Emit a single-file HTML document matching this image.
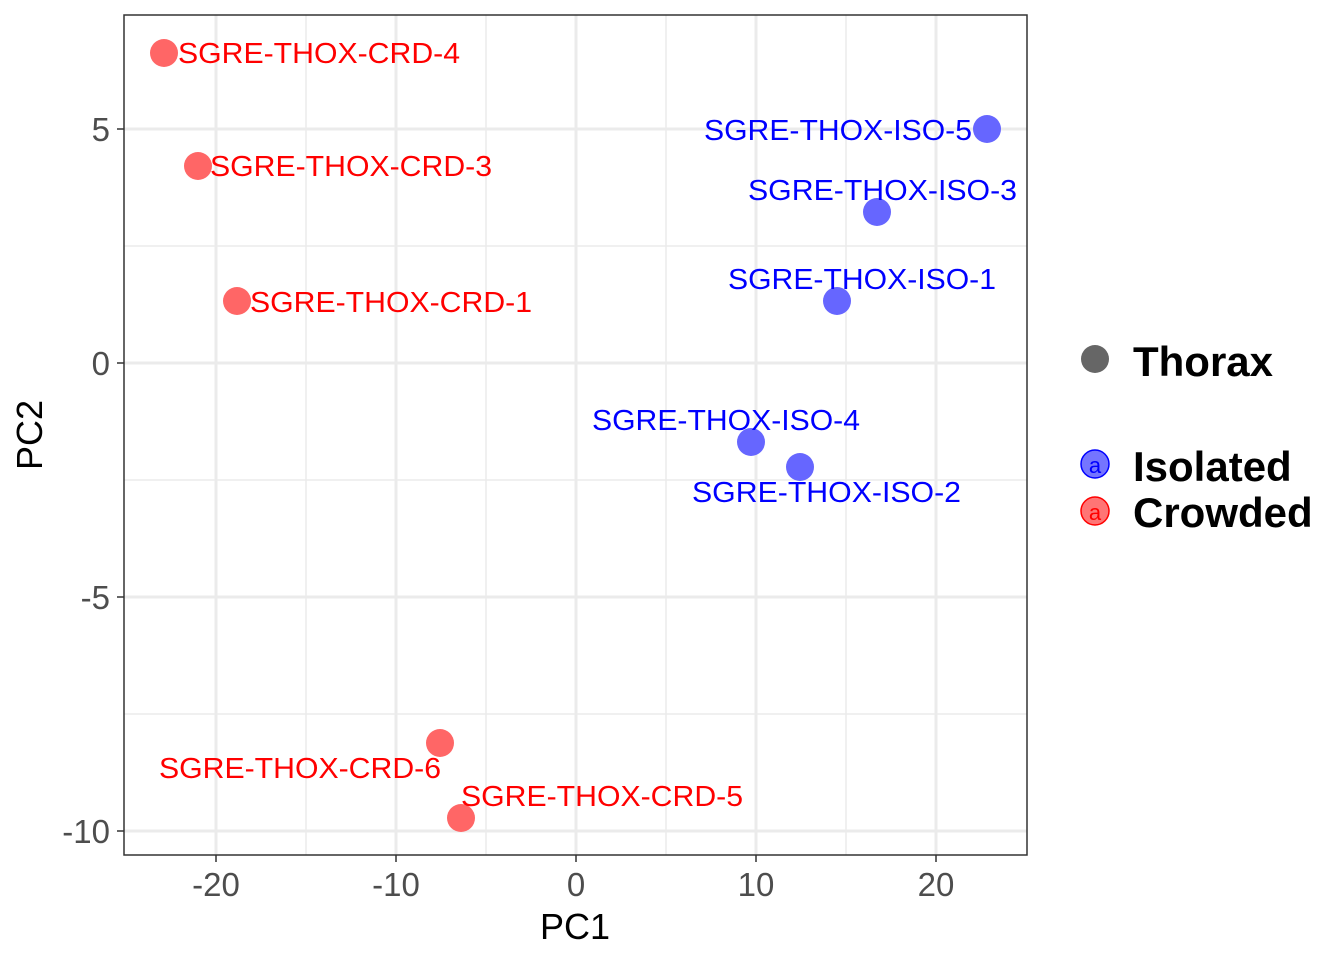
<!DOCTYPE html>
<html><head><meta charset="utf-8"><style>body{margin:0;background:#fff}svg{display:block}</style></head>
<body>
<svg width="1344" height="960" xmlns="http://www.w3.org/2000/svg" font-family="Liberation Sans, Arial, sans-serif">
<rect width="1344" height="960" fill="#fff"/>
<g stroke="#ebebeb" stroke-width="1.5">
<line x1="306" y1="15" x2="306" y2="855"/><line x1="486" y1="15" x2="486" y2="855"/>
<line x1="666" y1="15" x2="666" y2="855"/><line x1="846" y1="15" x2="846" y2="855"/>
<line x1="124" y1="246" x2="1027" y2="246"/><line x1="124" y1="480" x2="1027" y2="480"/><line x1="124" y1="714" x2="1027" y2="714"/>
</g>
<g stroke="#ebebeb" stroke-width="3">
<line x1="216" y1="15" x2="216" y2="855"/><line x1="396" y1="15" x2="396" y2="855"/>
<line x1="576" y1="15" x2="576" y2="855"/><line x1="756" y1="15" x2="756" y2="855"/><line x1="936" y1="15" x2="936" y2="855"/>
<line x1="124" y1="129" x2="1027" y2="129"/><line x1="124" y1="363" x2="1027" y2="363"/>
<line x1="124" y1="597" x2="1027" y2="597"/><line x1="124" y1="831" x2="1027" y2="831"/>
</g>
<g fill="#ff6666">
<circle cx="164" cy="53" r="14"/><circle cx="198" cy="166" r="14"/><circle cx="237" cy="301" r="14"/>
<circle cx="440" cy="743" r="14"/><circle cx="461" cy="818" r="14"/>
</g>
<g fill="#6666ff">
<circle cx="987" cy="129" r="14"/><circle cx="877" cy="212" r="14"/><circle cx="837" cy="301" r="14"/>
<circle cx="751" cy="442" r="14"/><circle cx="800" cy="467" r="14"/>
</g>
<g font-size="29" fill="#ff0000">
<text x="178" y="63" textLength="282" lengthAdjust="spacingAndGlyphs">SGRE-THOX-CRD-4</text>
<text x="210" y="176" textLength="282" lengthAdjust="spacingAndGlyphs">SGRE-THOX-CRD-3</text>
<text x="250" y="312" textLength="282" lengthAdjust="spacingAndGlyphs">SGRE-THOX-CRD-1</text>
<text x="159" y="778" textLength="282" lengthAdjust="spacingAndGlyphs">SGRE-THOX-CRD-6</text>
<text x="461" y="806" textLength="282" lengthAdjust="spacingAndGlyphs">SGRE-THOX-CRD-5</text>
</g>
<g font-size="29" fill="#0000ff">
<text x="704" y="140" textLength="268" lengthAdjust="spacingAndGlyphs">SGRE-THOX-ISO-5</text>
<text x="748" y="200" textLength="269" lengthAdjust="spacingAndGlyphs">SGRE-THOX-ISO-3</text>
<text x="728" y="289" textLength="268" lengthAdjust="spacingAndGlyphs">SGRE-THOX-ISO-1</text>
<text x="592" y="430" textLength="268" lengthAdjust="spacingAndGlyphs">SGRE-THOX-ISO-4</text>
<text x="692" y="502" textLength="269" lengthAdjust="spacingAndGlyphs">SGRE-THOX-ISO-2</text>
</g>
<rect x="124" y="15" width="903" height="840" fill="none" stroke="#333" stroke-width="1.5"/>
<g stroke="#333" stroke-width="1.5">
<line x1="216" y1="855" x2="216" y2="862"/><line x1="396" y1="855" x2="396" y2="862"/><line x1="576" y1="855" x2="576" y2="862"/><line x1="756" y1="855" x2="756" y2="862"/><line x1="936" y1="855" x2="936" y2="862"/>
<line x1="117" y1="129" x2="124" y2="129"/><line x1="117" y1="363" x2="124" y2="363"/><line x1="117" y1="597" x2="124" y2="597"/><line x1="117" y1="831" x2="124" y2="831"/>
</g>
<g font-size="33" fill="#4d4d4d" text-anchor="middle">
<text x="216" y="896">-20</text><text x="396" y="896">-10</text><text x="576" y="896">0</text><text x="756" y="896">10</text><text x="936" y="896">20</text>
</g>
<g font-size="33" fill="#4d4d4d" text-anchor="end">
<text x="110" y="141">5</text><text x="110" y="375">0</text><text x="110" y="609">-5</text><text x="110" y="843">-10</text>
</g>
<text x="575" y="939" font-size="36" text-anchor="middle">PC1</text>
<text transform="translate(42,435) rotate(-90)" font-size="36" text-anchor="middle">PC2</text>
<circle cx="1095" cy="359" r="14" fill="#666"/>
<text x="1133" y="376" font-size="42" font-weight="bold">Thorax</text>
<circle cx="1095" cy="464" r="14" fill="#6666ff" stroke="#0000ff" stroke-width="1.5" fill-opacity="0.9"/>
<text x="1095" y="473" font-size="22" fill="#0000ff" text-anchor="middle">a</text>
<circle cx="1095" cy="511" r="14" fill="#ff6666" stroke="#ff0000" stroke-width="1.5" fill-opacity="0.9"/>
<text x="1095" y="520" font-size="22" fill="#ff0000" text-anchor="middle">a</text>
<text x="1133" y="481" font-size="42" font-weight="bold">Isolated</text>
<text x="1133" y="527" font-size="42" font-weight="bold">Crowded</text>
</svg>
</body></html>
